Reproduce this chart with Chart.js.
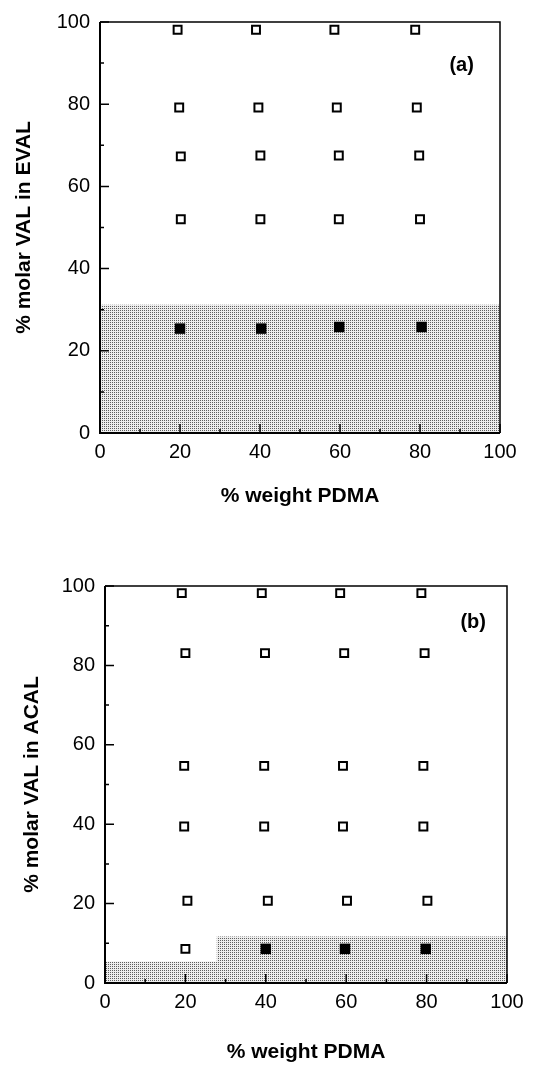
<!DOCTYPE html>
<html>
<head>
<meta charset="utf-8">
<script src="https://cdn.jsdelivr.net/npm/chart.js@4.4.1/dist/chart.umd.min.js"></script>
<style>
    body { margin: 0; background: #fff; width: 534px; height: 1086px; position: relative; overflow: hidden; }
    canvas { position: absolute; left: 0; }
    #chart-a { top: 0; }
    #chart-b { top: 550px; }
</style>
</head>
<body>
<canvas id="chart-a" width="534" height="530"></canvas>
<canvas id="chart-b" width="534" height="536"></canvas>
<script>
/* Panel (a): EVAL */
const aOpenX = [19.4, 39.0, 58.6, 78.8, 19.8, 39.6, 59.2, 79.2, 20.2, 40.1, 59.7, 79.8, 20.2, 40.1, 59.7, 80.0];
const aOpenY = [98.1, 98.1, 98.1, 98.1, 79.2, 79.2, 79.2, 79.2, 67.3, 67.5, 67.5, 67.5, 52.0, 52.0, 52.0, 52.0];
const aFilledX = [20.0, 40.3, 59.8, 80.4];
const aFilledY = [25.4, 25.4, 25.8, 25.8];
const aShadeX = [0, 100];
const aShadeY = [31.2, 31.2];

/* Panel (b): ACAL */
const bOpenX = [19.1, 39.0, 58.5, 78.7, 20.0, 39.8, 59.5, 79.5, 19.7, 39.6, 59.2, 79.2, 19.7, 39.6, 59.2, 79.2, 20.5, 40.5, 60.2, 80.2, 20.0];
const bOpenY = [98.2, 98.2, 98.2, 98.2, 83.1, 83.1, 83.1, 83.1, 54.7, 54.7, 54.7, 54.7, 39.4, 39.4, 39.4, 39.4, 20.7, 20.7, 20.7, 20.7, 8.6];
const bFilledX = [40.0, 59.7, 79.8];
const bFilledY = [8.6, 8.6, 8.6];
const bShadeX = [0, 27.8, 100];
const bShadeY = [5.4, 11.7, 11.7];

const xTitle = "% weight PDMA";
const FONT = "'Liberation Sans', Arial, Helvetica, sans-serif";

Chart.defaults.font.family = FONT;
Chart.defaults.color = "#000";

function toPoints(xs, ys){
    return xs.map((x, i) => ({x: x, y: ys[i]}));
}

function stipple(){
    // small dot screen, like the grey of the print
    const c = document.createElement("canvas");
    c.width = 2;
    c.height = 2;
    const g = c.getContext("2d");
    g.fillStyle = "#ededed";
    g.fillRect(0, 0, 2, 2);
    g.fillStyle = "#5e5e5e";
    g.fillRect(0, 0, 1, 1);
    return g.createPattern(c, "repeat");
}

const framePlugin = {
    id: "frame",
    afterDatasetsDraw(chart, args, opts){
        const ctx = chart.ctx;
        const a = chart.chartArea;
        const xs = chart.scales.x;
        const ys = chart.scales.y;

        ctx.save();
        ctx.strokeStyle = "#000";

        // top and right
        ctx.lineWidth = 1.5;
        ctx.beginPath();
        ctx.moveTo(a.left, a.top);
        ctx.lineTo(a.right, a.top);
        ctx.lineTo(a.right, a.bottom);
        ctx.stroke();

        // left and bottom axes
        ctx.lineWidth = 2;
        ctx.beginPath();
        ctx.moveTo(a.left, a.top);
        ctx.lineTo(a.left, a.bottom);
        ctx.lineTo(a.right, a.bottom);
        ctx.stroke();

        // inward ticks, major every 20, minor every 10
        ctx.lineWidth = 1.5;
        for(let v = 0; v <= 100; v += 10){
            const len = v % 20 === 0 ? 9 : 4;
            const py = ys.getPixelForValue(v);
            const px = xs.getPixelForValue(v);
            ctx.beginPath();
            ctx.moveTo(a.left, py);
            ctx.lineTo(a.left + len, py);
            ctx.moveTo(px, a.bottom);
            ctx.lineTo(px, a.bottom - len);
            ctx.stroke();
        }

        // panel label
        ctx.fillStyle = "#000";
        ctx.font = "bold 20px " + FONT;
        ctx.textAlign = "center";
        ctx.textBaseline = "middle";
        ctx.fillText(opts.label, xs.getPixelForValue(opts.labelX), ys.getPixelForValue(opts.labelY));
        ctx.restore();
    }
};

function drawPanel(id, p){
    /* It draws one panel of the figure.
     * id: canvas id
     * p: object with the point arrays, the y title and the layout numbers of that panel
     */

    const ctx = document.getElementById(id).getContext("2d");

    new Chart(ctx, {
        type: "scatter",
        data: {
            datasets: [{
                label: "miscible",
                data: toPoints(p.openX, p.openY),
                pointStyle: "rect",
                pointRadius: 5.6,
                pointBorderWidth: 2,
                pointBorderColor: "#000",
                pointBackgroundColor: "#fff",
                order: 1
            },

            {
                label: "immiscible",
                data: toPoints(p.filledX, p.filledY),
                pointStyle: "rect",
                pointRadius: 7.4,
                pointBorderWidth: 0,
                pointBackgroundColor: "#000",
                order: 0
            },

            {
                label: "region",
                data: toPoints(p.shadeX, p.shadeY),
                showLine: true,
                stepped: true,
                fill: "origin",
                backgroundColor: stipple(),
                borderWidth: 0,
                borderColor: "rgba(0,0,0,0)",
                pointRadius: 0,
                order: 10
            }]
        },

        options: {
            responsive: false,
            animation: false,
            events: [],
            layout: {
                padding: {top: p.padTop, right: p.padRight, left: 0, bottom: 0}
            },
            plugins: {
                legend: {display: false},
                tooltip: {enabled: false},
                frame: {label: p.label, labelX: p.labelX, labelY: p.labelY}
            },

            scales: {
                x: {
                    type: "linear",
                    min: 0,
                    max: 100,
                    grid: {display: false, drawTicks: false},
                    border: {display: false},
                    ticks: {stepSize: 20, autoSkip: false, padding: 7, maxRotation: 0, font: {size: 20}},
                    title: {
                        display: true,
                        text: xTitle,
                        font: {size: 21, weight: "bold"},
                        padding: {top: 0, bottom: p.xTitlePad}
                    },
                    afterFit: (scale) => { scale.height = p.xHeight; }
                },

                y: {
                    type: "linear",
                    min: 0,
                    max: 100,
                    grid: {display: false, drawTicks: false},
                    border: {display: false},
                    ticks: {stepSize: 20, autoSkip: false, padding: 10, font: {size: 20}},
                    title: {
                        display: true,
                        text: p.yTitle,
                        font: {size: 21, weight: "bold"},
                        padding: {top: p.yTitlePad, bottom: 0}
                    },
                    afterFit: (scale) => { scale.width = p.yWidth; }
                }
            }
        },
        plugins: [framePlugin]
    });
}

drawPanel("chart-a", {
    openX: aOpenX, openY: aOpenY,
    filledX: aFilledX, filledY: aFilledY,
    shadeX: aShadeX, shadeY: aShadeY,
    yTitle: "% molar VAL in EVAL",
    label: "(a)", labelX: 90.4, labelY: 89.4,
    padTop: 19, padRight: 34,
    yWidth: 100, xHeight: 97,
    yTitlePad: 12, xTitlePad: 21
});

drawPanel("chart-b", {
    openX: bOpenX, openY: bOpenY,
    filledX: bFilledX, filledY: bFilledY,
    shadeX: bShadeX, shadeY: bShadeY,
    yTitle: "% molar VAL in ACAL",
    label: "(b)", labelX: 91.6, labelY: 90.8,
    padTop: 36, padRight: 27,
    yWidth: 105, xHeight: 103,
    yTitlePad: 20, xTitlePad: 21
});
</script>
</body>
</html>
